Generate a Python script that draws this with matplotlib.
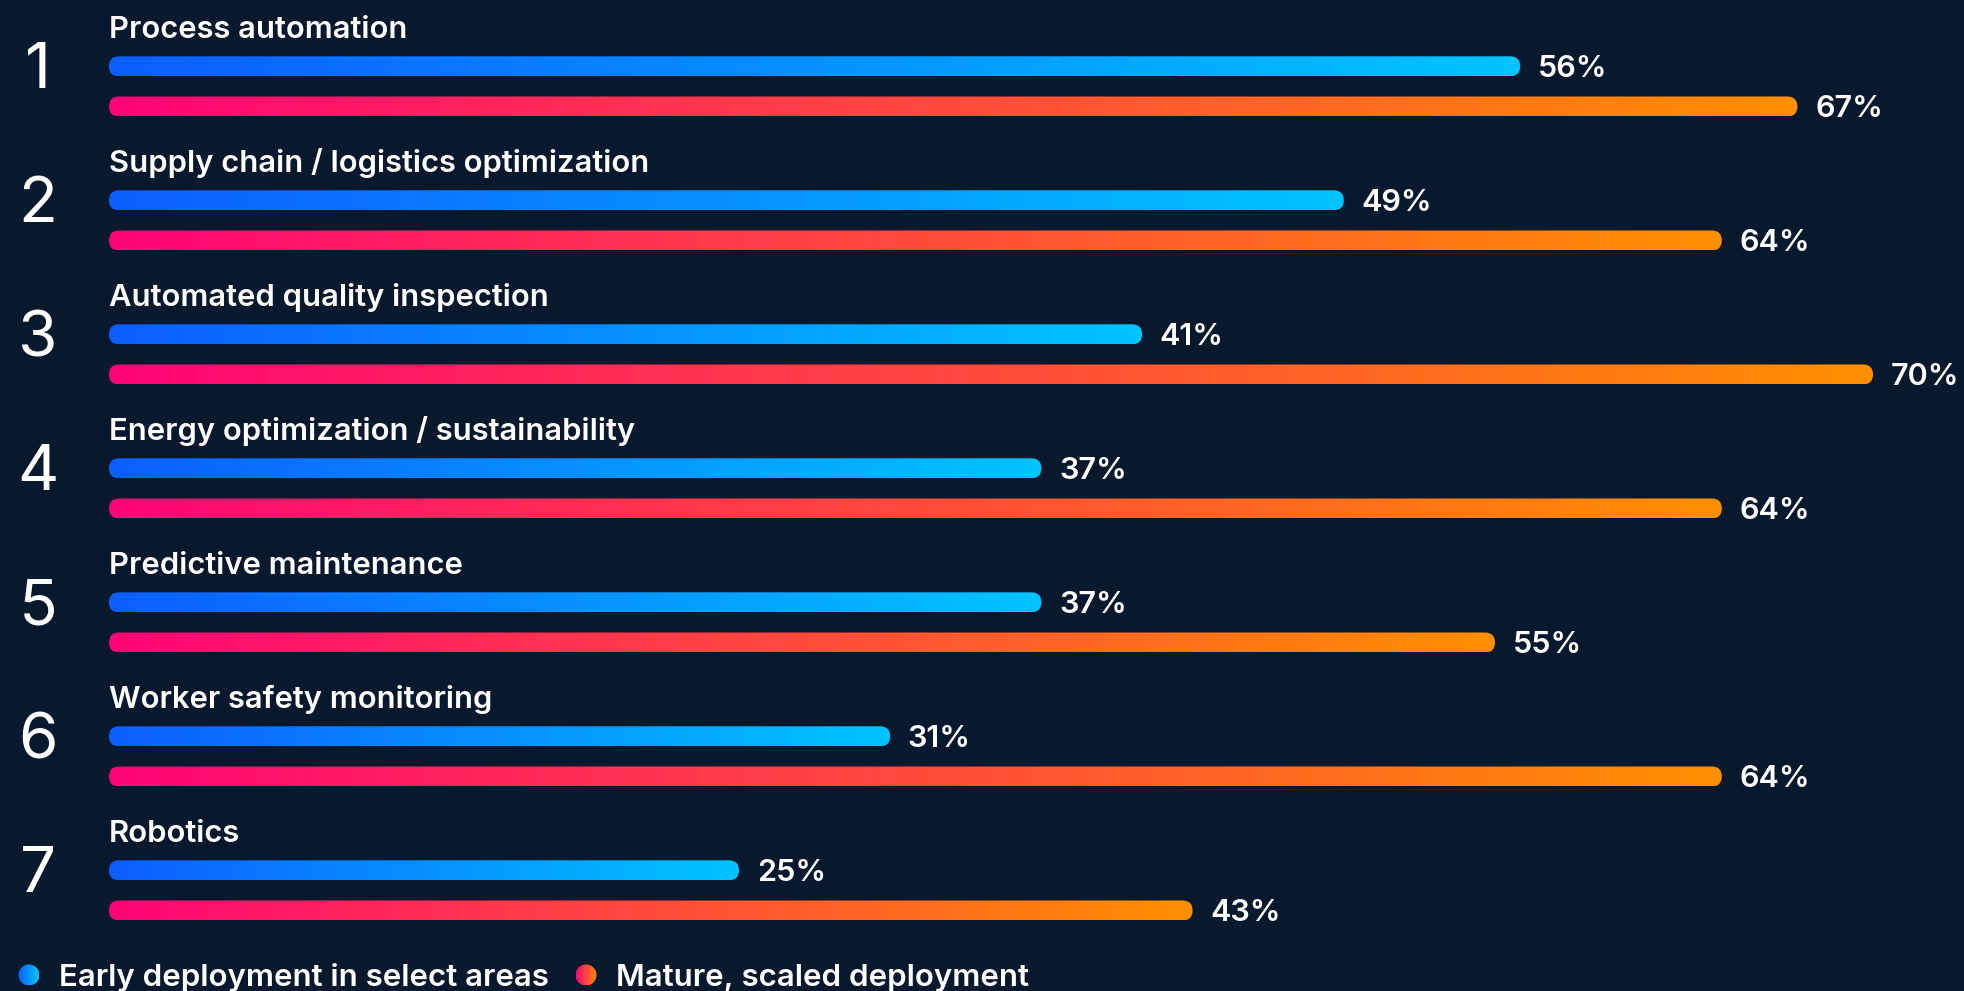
import numpy as np
import matplotlib.pyplot as plt
from matplotlib.colors import LinearSegmentedColormap
from matplotlib.patches import FancyBboxPatch, Ellipse

categories = ["Process automation", "Supply chain / logistics optimization",
              "Automated quality inspection", "Energy optimization / sustainability",
              "Predictive maintenance", "Worker safety monitoring", "Robotics"]
early = [56, 49, 41, 37, 37, 31, 25]
mature = [67, 64, 70, 64, 55, 64, 43]
legend_labels = ["Early deployment in select areas", "Mature, scaled deployment"]

bg = "#08192d"
blue_cm = LinearSegmentedColormap.from_list("b", ["#0d5eff", "#00c4ff"])
red_cm = LinearSegmentedColormap.from_list("r", ["#ff0577", "#ff9000"])

W, H = 1964, 991
fig = plt.figure(figsize=(W / 100, H / 100), dpi=100, facecolor=bg)
ax = fig.add_axes([0, 0, 1, 1])
ax.set_facecolor(bg)
ax.axis("off")

# pixel scale: 0% at x=109px, 25.2 px per %, 134 px per row
px_x = 25.2
px_y = 134.0
x0 = -109 / px_x
x1 = (W - 109) / px_x
y_top = -86.4 / px_y
y_bot = (H - 86.4) / px_y
aspect = px_x / px_y

bar_h = 20 / px_y
off = 0.15
grad = np.linspace(0, 1, 256).reshape(1, -1)
txt = dict(color="white", family="Inter", fontweight="semibold")


def gbar(v, yc, cmap):
    patch = FancyBboxPatch((0, yc - bar_h / 2), v, bar_h,
                           boxstyle="round,pad=0,rounding_size=%f" % (10 / px_x),
                           mutation_aspect=aspect,
                           facecolor="none", edgecolor="none")
    ax.add_patch(patch)
    im = ax.imshow(grad, cmap=cmap, aspect="auto",
                   extent=(0, v, yc + bar_h / 2, yc - bar_h / 2))
    im.set_clip_path(patch)


for i, cat in enumerate(categories):
    ax.text(-71 / px_x, i - 0.11, str(i + 1), color="white", fontsize=46,
            family="Inter", ha="center", va="center")
    ax.text(0, i - 0.36, cat, fontsize=22.3, ha="left", va="baseline", **txt)
    gbar(early[i], i - off, blue_cm)
    gbar(mature[i], i + off, red_cm)
    ax.text(early[i] + 0.7, i - off, "%d%%" % early[i], fontsize=22,
            va="center_baseline", **txt)
    ax.text(mature[i] + 0.7, i + off, "%d%%" % mature[i], fontsize=22,
            va="center_baseline", **txt)

# legend
ly = (975 - 86.4) / px_y
lx = [(29 - 109) / px_x, (586 - 109) / px_x]
for cx, cmap, lab in zip(lx, [blue_cm, red_cm], legend_labels):
    r = 10.5
    e = Ellipse((cx, ly), 2 * r / px_x, 2 * r / px_y, facecolor="none", edgecolor="none")
    ax.add_patch(e)
    im = ax.imshow(grad, cmap=cmap, aspect="auto",
                   extent=(cx - r / px_x, cx + r / px_x, ly + r / px_y, ly - r / px_y))
    im.set_clip_path(e)
    ax.text(cx + 30 / px_x, ly, lab, fontsize=22.5, va="center_baseline", **txt)

ax.set_xlim(x0, x1)
ax.set_ylim(y_bot, y_top)

fig.savefig("out.png", dpi=100, facecolor=bg)
